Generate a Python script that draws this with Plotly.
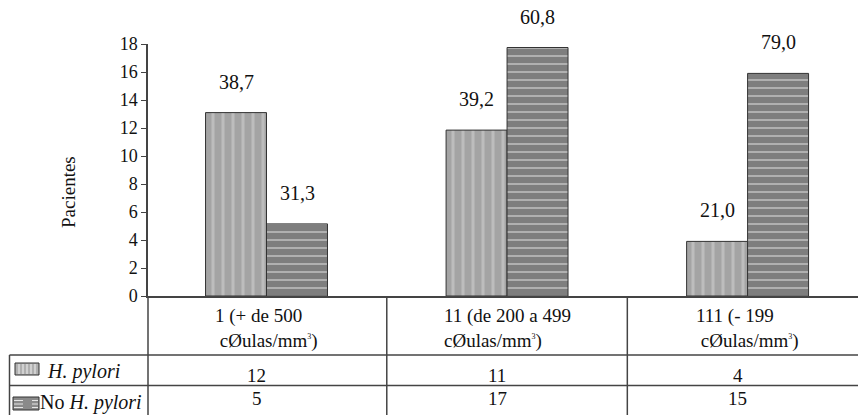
import plotly.graph_objects as go

# ---- data ----
categories = ["1 (+ de 500<br>\u00a0cØulas/mm<sup><span style='font-size:8px'>3</span></sup>)",
              "11 (de 200 a 499<br>cØulas/mm<sup><span style='font-size:8px'>3</span></sup>)",
              "111 (- 199<br>\u00a0cØulas/mm<sup><span style='font-size:8px'>3</span></sup>)"]
series_names = ["<i>H. pylori</i>", "No <i>H. pylori</i>"]
bar_h_pylori = [13.1, 11.85, 3.9]      # bar heights as drawn
bar_no_pylori = [5.15, 17.75, 15.9]
pct_h_pylori = ["38,7", "39,2", "21,0"]
pct_no_pylori = ["31,3", "60,8", "79,0"]
table_h_pylori = ["12", "11", "4"]
table_no_pylori = ["5", "17", "15"]
y_ticks = list(range(0, 19, 2))

W, H = 858, 415
L, R, T, B = 148, 0, 44, 119
PW, PH = W - L - R, H - T - B
FONT = "Times New Roman, Liberation Serif, serif"
TXT = "#111111"
LINE = "#444444"


def xp(px):
    return (px - L) / PW


def yp(py):
    return (H - B - py) / PH


def f(size):
    return dict(family=FONT, size=size, color=TXT)


xs = list(range(len(categories)))
fig = go.Figure()
fig.add_bar(x=xs, y=bar_h_pylori, name=series_names[0],
            marker=dict(color="#a8a8a8", line=dict(color="#333333", width=1),
                        pattern=dict(shape="|", bgcolor="#a4a4a4", fgcolor="#d6d6d6",
                                     size=10, solidity=0.3)),
            showlegend=False)
fig.add_bar(x=xs, y=bar_no_pylori, name=series_names[1],
            marker=dict(color="#858585", line=dict(color="#333333", width=1),
                        pattern=dict(shape="-", bgcolor="#7e7e7e", fgcolor="#e2e2e2",
                                     size=8, solidity=0.25)),
            showlegend=False)

bargap = 0.493
bw = (1 - bargap) / 2
ann = []
for i in xs:
    ann.append(dict(x=i - bw / 2, y=bar_h_pylori[i], text=pct_h_pylori[i], showarrow=False,
                    yshift=31, yanchor="middle", font=f(20)))
    ann.append(dict(x=i + bw / 2, y=bar_no_pylori[i], text=pct_no_pylori[i], showarrow=False,
                    yshift=31, yanchor="middle", font=f(20)))
    # category label in table
    ann.append(dict(x=i, y=yp(328), yref="paper", text=categories[i], showarrow=False,
                    align="left", xanchor="center", yanchor="middle", font=f(19)))
    ann.append(dict(x=i, y=yp(375.5), yref="paper", text=table_h_pylori[i], showarrow=False,
                    xshift=-10, yanchor="middle", font=f(19)))
    ann.append(dict(x=i, y=yp(398), yref="paper", text=table_no_pylori[i], showarrow=False,
                    xshift=-10, yanchor="middle", font=f(19)))

# legend text
ann.append(dict(x=xp(45), y=yp(371), xref="paper", yref="paper", text=series_names[0],
                showarrow=False, xanchor="left", yanchor="middle", font=f(20)))
ann.append(dict(x=xp(38), y=yp(402), xref="paper", yref="paper", text=series_names[1],
                showarrow=False, xanchor="left", yanchor="middle", font=f(20)))
# y axis title
ann.append(dict(x=xp(68), y=yp(192), xref="paper", yref="paper", text="Pacientes",
                textangle=-90, showarrow=False, xanchor="center", yanchor="middle", font=f(19)))

shapes = []
ln = dict(color=LINE, width=1.5)
# table vertical lines
shapes.append(dict(type="line", xref="paper", yref="paper", x0=0, x1=0, y0=0, y1=yp(H), line=ln))
for b in [0.5, 1.5]:
    shapes.append(dict(type="line", xref="x", yref="paper", x0=b, x1=b, y0=0, y1=yp(H), line=ln))
shapes.append(dict(type="line", xref="paper", yref="paper", x0=xp(9.5), x1=xp(9.5),
                   y0=yp(355), y1=yp(H), line=ln))
# table horizontal lines
for py in [355, 385.5]:
    shapes.append(dict(type="line", xref="paper", yref="paper", x0=xp(9.5), x1=1,
                       y0=yp(py), y1=yp(py), line=ln))
# legend swatches
shapes.append(dict(type="rect", xref="paper", yref="paper", x0=xp(15), x1=xp(39),
                   y0=yp(375), y1=yp(363), fillcolor="#b0b0b0", line=dict(color="#333", width=1)))
for sx in [19, 23, 27, 31, 35]:
    shapes.append(dict(type="line", xref="paper", yref="paper", x0=xp(sx), x1=xp(sx),
                       y0=yp(374), y1=yp(364), line=dict(color="#dcdcdc", width=1.5)))
shapes.append(dict(type="rect", xref="paper", yref="paper", x0=xp(13), x1=xp(39),
                   y0=yp(410), y1=yp(397), fillcolor="#8a8a8a", line=dict(color="#333", width=1)))
for sy in [400.5, 404, 407.5]:
    shapes.append(dict(type="line", xref="paper", yref="paper", x0=xp(14), x1=xp(38),
                       y0=yp(sy), y1=yp(sy), line=dict(color="#e6e6e6", width=1.2, dash="dash")))

fig.update_layout(
    width=W, height=H,
    margin=dict(l=L, r=R, t=T, b=B, pad=0),
    paper_bgcolor="white", plot_bgcolor="white",
    font=dict(family=FONT, color=TXT),
    barmode="group", bargap=bargap, bargroupgap=0,
    annotations=ann, shapes=shapes,
)
fig.update_xaxes(range=[-0.4927, 2.459], showticklabels=False, ticks="", showgrid=False,
                 zeroline=False, showline=True, linecolor=LINE, linewidth=1.5)
fig.update_yaxes(range=[0, 18], tickvals=y_ticks, ticks="outside", ticklen=5, tickcolor=LINE,
                 tickwidth=1, showgrid=False, zeroline=False, showline=True, linecolor=LINE,
                 linewidth=1.5, tickfont=f(18))

fig.write_html("out.html")
